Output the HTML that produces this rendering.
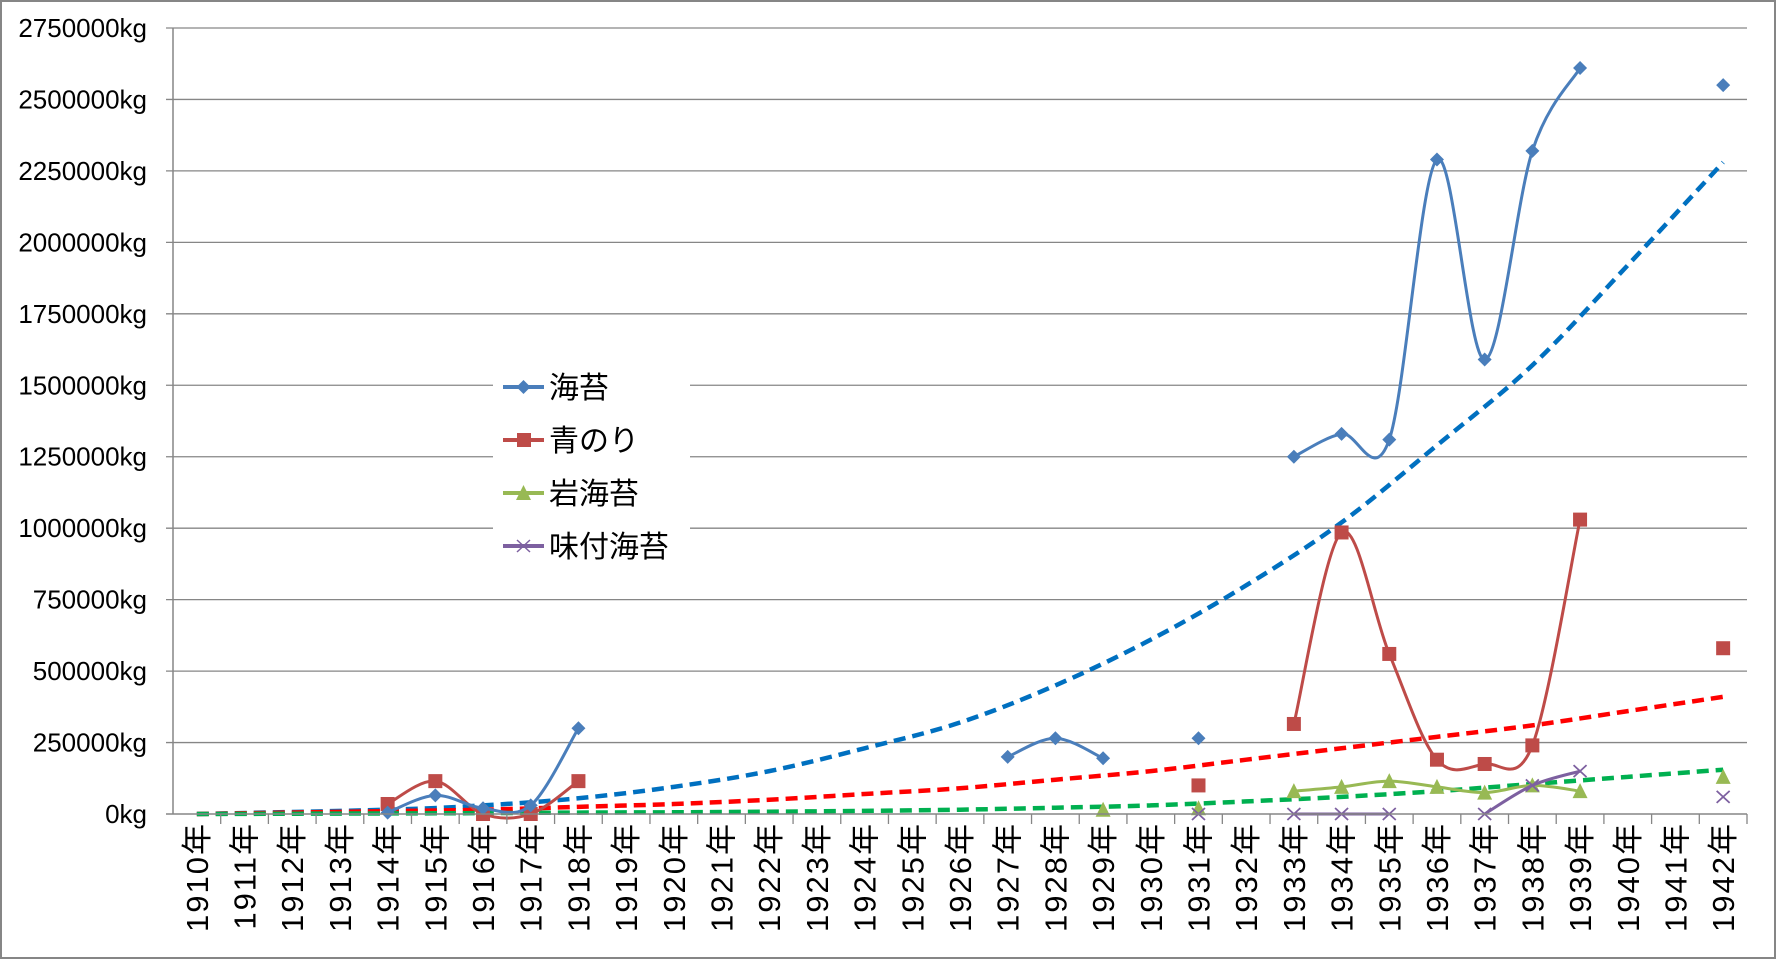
<!DOCTYPE html>
<html><head><meta charset="utf-8"><style>
html,body{margin:0;padding:0;background:#fff}
svg{display:block;font-family:"Liberation Sans","Noto Sans CJK JP",sans-serif}
</style></head><body>
<svg id="chart" width="1777" height="961" viewBox="0 0 1777 961" xmlns="http://www.w3.org/2000/svg">
<rect x="1" y="1" width="1774" height="957" fill="#fff" stroke="#868686" stroke-width="2"/>
<g id="grid"></g><g id="trends"></g><g id="series"></g><g id="axes"></g>
<g>
<rect x="493" y="360" width="197" height="212" fill="#fff"/>
<g><line x1="503" y1="387" x2="544" y2="387" stroke="#4a7ebb" stroke-width="4"/><path d="M523.5 380 L530.5 387 L523.5 394 L516.5 387Z" fill="#4a7ebb"/><text x="549" y="398" font-size="30">海苔</text></g>
<g><line x1="503" y1="440" x2="544" y2="440" stroke="#be4b48" stroke-width="4"/><rect x="517" y="433" width="14" height="14" fill="#be4b48"/><text x="549" y="451" font-size="30">青のり</text></g>
<g><line x1="503" y1="493" x2="544" y2="493" stroke="#98b954" stroke-width="4"/><path d="M523.5 485 L531 500 L516 500Z" fill="#98b954"/><text x="549" y="504" font-size="30">岩海苔</text></g>
<g><line x1="503" y1="546" x2="544" y2="546" stroke="#7d60a0" stroke-width="4"/><path d="M517 540 L530 552 M530 540 L517 552" stroke="#7d60a0" stroke-width="1.5"/><text x="549" y="557" font-size="30">味付海苔</text></g>
</g>
</svg>
<script>
const categories = ["1910年","1911年","1912年","1913年","1914年","1915年","1916年","1917年","1918年","1919年","1920年","1921年","1922年","1923年","1924年","1925年","1926年","1927年","1928年","1929年","1930年","1931年","1932年","1933年","1934年","1935年","1936年","1937年","1938年","1939年","1940年","1941年","1942年"];
const yTicks = [0,250000,500000,750000,1000000,1250000,1500000,1750000,2000000,2250000,2500000,2750000];
const noriValues = [null,null,null,null,5000,65000,20000,30000,300000,null,null,null,null,null,null,null,null,200000,265000,195000,null,265000,null,1250000,1330000,1310000,2290000,1590000,2320000,2610000,null,null,2550000];
const aonoriValues = [null,null,null,null,35000,115000,0,0,115000,null,null,null,null,null,null,null,null,null,null,null,null,100000,null,315000,985000,560000,190000,175000,240000,1030000,null,null,580000];
const iwanoriValues = [null,null,null,null,null,null,null,null,null,null,null,null,null,null,null,null,null,null,null,15000,null,20000,null,80000,95000,115000,95000,75000,100000,80000,null,null,130000];
const ajitsukeValues = [null,null,null,null,null,null,null,null,null,null,null,null,null,null,null,null,null,null,null,null,null,0,null,0,0,0,null,0,100000,150000,null,null,60000];
const trendYears = [1910,1914,1916,1918,1920,1922,1924,1926,1928,1930,1932,1934,1936,1938,1940,1942];
const noriTrend = [0,15000,30000,55000,95000,150000,230000,320000,450000,610000,800000,1020000,1290000,1570000,1920000,2280000];
const aonoriTrend = [0,10000,15000,25000,35000,50000,70000,90000,120000,150000,190000,230000,270000,310000,360000,410000];
const iwanoriTrend = [0,2000,3000,5000,6000,8000,11000,15000,22000,30000,44000,60000,80000,105000,130000,155000];
</script>
<script>
const NS="http://www.w3.org/2000/svg";
const X0=173,X1=1747,Y0=814,YT=28,YMAX=2750000;
const cw=(X1-X0)/categories.length;
const xOf=i=>X0+cw*(i+0.5);
const xYear=y=>xOf(y-1910);
const yOf=v=>Y0-(v/YMAX)*(Y0-YT);
function mk(tag,attrs,parent){const e=document.createElementNS(NS,tag);for(const k in attrs)e.setAttribute(k,attrs[k]);parent.appendChild(e);return e;}
const grid=document.getElementById('grid'),axes=document.getElementById('axes'),trends=document.getElementById('trends'),series=document.getElementById('series');
yTicks.forEach(v=>{
  const y=yOf(v);
  if(v>0){const g=mk('line',{x1:X0-7,y1:y,x2:X1,y2:y,stroke:'#868686','stroke-width':1.3},grid);
  
  }
  const t=mk('text',{x:147,y:y+9,'font-size':26,'text-anchor':'end',fill:'#000'},axes);
  
  
  t.textContent=v+'kg';
});
const ya=mk('line',{x1:X0,y1:YT,x2:X0,y2:Y0,stroke:'#868686','stroke-width':1.5},axes);


const xa=mk('line',{x1:X0-7,y1:Y0,x2:X1,y2:Y0,stroke:'#868686','stroke-width':1.5},axes);


categories.forEach((c,i)=>{
  const tx=X0+cw*(i+1);
  const tk=mk('line',{x1:tx,y1:Y0,x2:tx,y2:Y0+10,stroke:'#868686','stroke-width':1.3},axes);
  
  
  const x=xOf(i);
  const t=mk('text',{x:0,y:0,'font-size':31,'letter-spacing':2,'text-anchor':'end',transform:`translate(${x+11},822) rotate(-90)`},axes);
  
  
  t.textContent=c;
});
function smooth(pts){
  if(pts.length<2)return '';
  let d=`M${pts[0][0]},${pts[0][1]}`;
  for(let i=0;i<pts.length-1;i++){
    const p0=pts[i-1]||pts[i],p1=pts[i],p2=pts[i+1],p3=pts[i+2]||p2;
    const t=1/6;
    d+=` C${p1[0]+(p2[0]-p0[0])*t},${p1[1]+(p2[1]-p0[1])*t} ${p2[0]-(p3[0]-p1[0])*t},${p2[1]-(p3[1]-p1[1])*t} ${p2[0]},${p2[1]}`;
  }
  return d;
}
function drawTrend(vals,color,name){
  const pts=trendYears.map((yr,i)=>[xYear(yr),yOf(vals[i])]);
  const p=mk('path',{d:smooth(pts),fill:'none',stroke:color,'stroke-width':4.5,'stroke-dasharray':'12 7'},trends);
  
  
}
drawTrend(noriTrend,'#0070c0','nori-trendline');
drawTrend(aonoriTrend,'#ff0000','aonori-trendline');
drawTrend(iwanoriTrend,'#00b050','iwanori-trendline');
function marker(type,x,y,color,g){
  let e;
  if(type==='diamond')e=mk('path',{d:`M${x},${y-7} L${x+7},${y} L${x},${y+7} L${x-7},${y}Z`,fill:color},g);
  else if(type==='square')e=mk('rect',{x:x-7,y:y-7,width:14,height:14,fill:color},g);
  else if(type==='tri')e=mk('path',{d:`M${x},${y-8} L${x+7.5},${y+7} L${x-7.5},${y+7}Z`,fill:color},g);
  else e=mk('path',{d:`M${x-6.5},${y-6} L${x+6.5},${y+6} M${x+6.5},${y-6} L${x-6.5},${y+6}`,stroke:color,'stroke-width':1.8,fill:'none'},g);
  
  
}
function drawSeries(vals,color,type,name){
  const g=mk('g',{},series);
  
  
  let seg=[];const segs=[];
  vals.forEach((v,i)=>{if(v===null){if(seg.length)segs.push(seg);seg=[];}else seg.push([xOf(i),yOf(v)]);});
  if(seg.length)segs.push(seg);
  segs.forEach(s=>{if(s.length>1){const p=mk('path',{d:smooth(s),fill:'none',stroke:color,'stroke-width':3},g);
    
    }});
  vals.forEach((v,i)=>{if(v!==null)marker(type,xOf(i),yOf(v),color,g);});
}
drawSeries(iwanoriValues,'#98b954','tri','iwanori-series');
drawSeries(ajitsukeValues,'#7d60a0','x','ajitsuke-series');
drawSeries(aonoriValues,'#be4b48','square','aonori-series');
drawSeries(noriValues,'#4a7ebb','diamond','nori-series');
</script>
</body></html>
